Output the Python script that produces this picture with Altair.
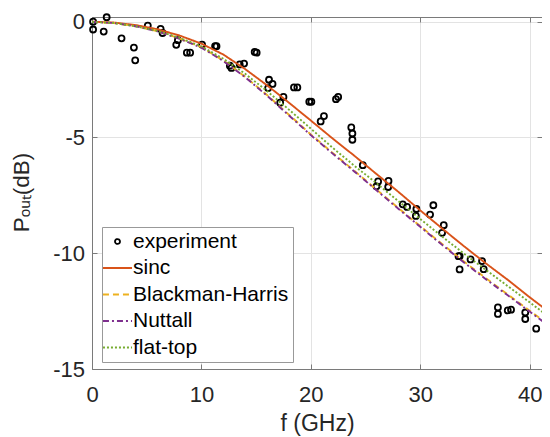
import altair as alt
import pandas as pd

# ---- experiment points (f in GHz, P_out in dB) ----
exp_f = [0.1, 0.1, 1.07, 1.34, 2.7, 3.83, 3.95, 5.1, 6.27, 6.45, 7.7, 7.85, 8.67, 8.97,
         10.06, 11.25, 11.38, 12.6, 12.75, 13.5, 13.9, 14.87, 15.05, 16.18, 16.5, 16.1,
         17.5, 17.2, 18.46, 18.77, 19.86, 20.05, 21.2, 20.9, 22.3, 22.5, 23.7, 23.8, 23.8,
         24.75, 26.15, 26.0, 27.1, 27.07, 28.4, 28.8, 29.65, 29.6, 30.9, 31.2, 32.15, 32.0,
         33.5, 33.6, 33.6, 34.6, 35.65, 35.8, 37.1, 37.1, 38.0, 38.3, 39.6, 39.6, 40.6]
exp_db = [0.0, -0.34, -0.43, 0.19, -0.72, -1.12, -1.67, -0.17, -0.31, -0.49, -1.0, -0.8, -1.34, -1.34,
          -0.99, -1.06, -1.06, -1.9, -2.0, -1.85, -1.81, -1.31, -1.34, -2.51, -2.69, -2.87,
          -3.25, -3.5, -2.84, -2.84, -3.46, -3.46, -4.08, -4.31, -3.35, -3.25, -4.57, -4.83, -5.1,
          -6.2, -6.9, -7.11, -6.88, -7.14, -7.89, -8.0, -8.09, -8.39, -8.33, -7.93, -8.79, -9.12,
          -10.13, -10.13, -10.7, -10.27, -10.34, -10.69, -12.34, -12.62, -12.47, -12.44, -12.56, -12.84, -13.26]

# ---- model curves ----
curve_f = [0, 2, 4, 6, 8, 10, 12, 14, 16, 18, 20, 22, 24, 26, 28, 30, 32, 34, 36, 38, 40, 42]
sinc_db = [0.0, -0.04, -0.15, -0.33, -0.6, -0.95, -1.42, -2.05, -2.75, -3.5, -4.27, -5.05,
           -5.8, -6.58, -7.35, -8.15, -8.93, -9.7, -10.44, -11.15, -11.9, -12.62]
bh_db = [-0.01, -0.06, -0.2, -0.41, -0.73, -1.1, -1.68, -2.38, -3.17, -4.02, -4.87, -5.67,
         -6.45, -7.25, -8.05, -8.83, -9.6, -10.36, -11.08, -11.78, -12.48, -13.17]
nuttall_db = [-0.01, -0.06, -0.2, -0.42, -0.74, -1.12, -1.7, -2.4, -3.2, -4.05, -4.9, -5.7,
              -6.48, -7.28, -8.08, -8.86, -9.64, -10.4, -11.12, -11.82, -12.52, -13.22]
flattop_db = [-0.01, -0.06, -0.2, -0.4, -0.7, -1.07, -1.6, -2.25, -3.0, -3.8, -4.62, -5.45,
              -6.23, -6.98, -7.75, -8.52, -9.28, -10.02, -10.72, -11.42, -12.12, -12.83]

series_names = ["experiment", "sinc", "Blackman-Harris", "Nuttall", "flat-top"]
series_colors = ["#000000", "#D95319", "#EDB120", "#7E2F8E", "#77AC30"]
line_names = series_names[1:]
line_dashes = [[1, 0], [6, 4], [6, 3, 2, 3], [2, 2]]

x_ticks = [0, 10, 20, 30, 40]
y_ticks = [-15, -10, -5, 0]

rows = []
for name, vals in zip(line_names, [sinc_db, bh_db, nuttall_db, flattop_db]):
    for f, v in zip(curve_f, vals):
        rows.append({"f": f, "dB": v, "series": name})
lines_df = pd.DataFrame(rows)
exp_df = pd.DataFrame({"f": exp_f, "dB": exp_db, "series": ["experiment"] * len(exp_f)})

FONT = "Liberation Sans"
AX = "#7a7a7a"
TXT = "#262626"
GRID = "#e3e3e3"

# visible part of the frequency axis (the frame runs just past the picture's right edge)
x_scale = alt.Scale(domain=[0, 41.13], nice=False, zero=False)
y_scale = alt.Scale(domain=[-15, 0.2], nice=False, zero=False)

# per-entry legend symbol styles (evaluated on each legend entry)
dash_expr = "[1,0]"
for n, d in zip(line_names, line_dashes):
    dash_expr = f"datum.value === '{n}' ? [{','.join(str(v) for v in d)}] : (" + dash_expr + ")"
shape_expr = ("datum.value === 'experiment' ? "
              "'M-0.26,0A0.26,0.26 0 1,1 0.26,0A0.26,0.26 0 1,1 -0.26,0Z' : 'M-1.53,0H1.53'")

color = alt.Color(
    "series:N",
    scale=alt.Scale(domain=series_names, range=series_colors),
    legend=alt.Legend(
        title=None, orient="none", legendX=10, legendY=210,
        labelFont=FONT, labelFontSize=21, labelColor="#000000",
        symbolSize=361, symbolStrokeWidth=1.8, symbolFillColor="transparent",
        symbolType=alt.ExprRef(expr=shape_expr),
        symbolDash=alt.ExprRef(expr=dash_expr),
        symbolOffset=1, rowPadding=4.5, labelOffset=5, padding=4,
        strokeColor="#999999", fillColor="#ffffff",
    ),
)

inward = alt.ExprRef(expr="-5")
plain_label = "'' + datum.value"

points = alt.Chart(exp_df).mark_point(
    shape="circle", filled=False, size=36, strokeWidth=1.8, opacity=1
).encode(
    x=alt.X("f:Q", scale=x_scale, axis=alt.Axis(
        orient="top", values=x_ticks, labels=False, title=None, grid=False,
        domainColor=AX, tickColor=AX, tickSize=inward)),
    y=alt.Y("dB:Q", scale=y_scale, axis=alt.Axis(
        orient="right", values=y_ticks, labels=False, title=None, grid=False,
        domainColor=AX, tickColor=AX, tickSize=inward)),
    color=color,
)

lines = alt.Chart(lines_df).mark_line(strokeWidth=1.9, clip=True).encode(
    x=alt.X("f:Q", scale=x_scale, axis=alt.Axis(
        orient="bottom", values=x_ticks, title="f (GHz)", grid=True, gridColor=GRID,
        domainColor=AX, tickColor=AX, tickSize=inward, labelPadding=20.5,
        labelFlush=False, labelExpr=plain_label,
        labelFont=FONT, labelFontSize=22, labelColor=TXT,
        titleFont=FONT, titleFontSize=23, titleColor=TXT, titleFontWeight="normal",
        titleBaseline="alphabetic", titleY=61)),
    y=alt.Y("dB:Q", scale=y_scale, axis=alt.Axis(
        orient="left", values=y_ticks, title="Pₒᵤₜ(dB)", grid=True, gridColor=GRID,
        domainColor=AX, tickColor=AX, tickSize=inward, labelPadding=12.5,
        labelFlush=False, labelExpr=plain_label,
        labelFont=FONT, labelFontSize=22, labelColor=TXT,
        titleFont=FONT, titleFontSize=22.5, titleColor=TXT, titleFontWeight="normal",
        titleBaseline="alphabetic", titleX=-64, titleY=175, titleAlign="center")),
    color=color,
    strokeDash=alt.StrokeDash("series:N", scale=alt.Scale(domain=line_names, range=line_dashes), legend=None),
    detail="series:N",
)

chart = alt.layer(points, lines).resolve_axis(x="independent", y="independent").properties(
    width=450, height=352,
    autosize=alt.AutoSizeParams(type="none"),
    padding={"left": 84, "top": 9, "right": 0, "bottom": 68},
    background="#ffffff",
).configure_view(strokeWidth=0)

chart.save("out.html", embed_options={"renderer": "svg", "actions": False})
